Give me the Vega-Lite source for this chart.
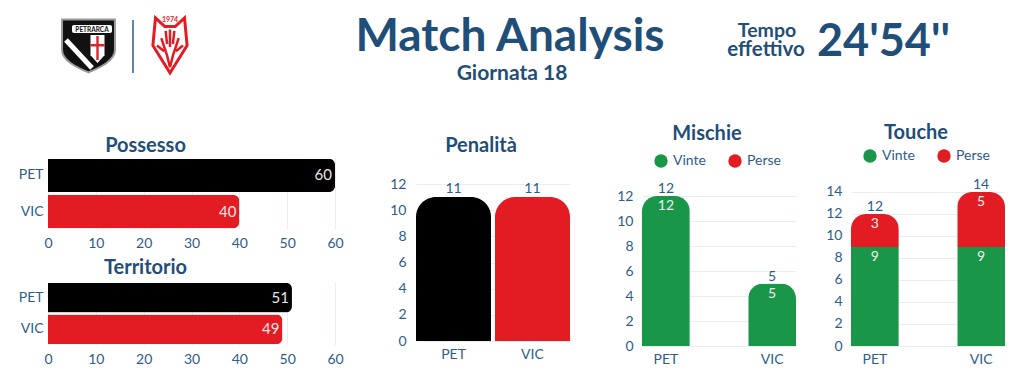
{
  "$schema": "https://vega.github.io/schema/vega-lite/v6.json",
  "background": "white",
  "padding": {"left": 18, "top": 0, "right": 0, "bottom": 0},
  "config": {
    "font": "Lato",
    "view": {"stroke": null},
    "axis": {"labelFont": "Lato", "labelColor": "#2E5C8A", "labelFontSize": 14, "domain": false, "ticks": false, "gridColor": "#E9EEF4", "gridWidth": 1, "labelFlush": false},
    "title": {"font": "Lato", "fontSize": 20, "fontWeight": "bold", "color": "#1F4E79"},
    "legend": {"labelFont": "Lato", "labelColor": "#2E5C8A", "labelFontSize": 14}
  },
  "spacing": 4,
  "vconcat": [
    {
      "width": 952,
      "height": 119,
      "data": {"values": [{}]},
      "layer": [
        {
          "mark": {"type": "point", "shape": "M-1,-1L1,-1L1,0.15C1,0.55 0.45,0.8 0,1C-0.45,0.8 -1,0.55 -1,0.15Z", "filled": true, "fill": "#111111", "stroke": "#9a9a9a", "strokeWidth": 2, "size": 2800, "opacity": 1},
          "encoding": {
            "x": {"datum": 88.5, "type": "quantitative", "scale": {"domain": [48, 1000], "nice": false, "zero": false}, "axis": null},
            "y": {"datum": 46, "type": "quantitative", "scale": {"domain": [0, 119], "nice": false, "reverse": true}, "axis": null}
          }
        },
        {
          "mark": {"type": "rule", "color": "#ffffff", "strokeWidth": 5},
          "encoding": {
            "x": {"datum": 66, "type": "quantitative", "scale": {"domain": [48, 1000], "nice": false, "zero": false}, "axis": null},
            "y": {"datum": 40, "type": "quantitative", "scale": {"domain": [0, 119], "nice": false, "reverse": true}, "axis": null},
            "x2": {"datum": 92},
            "y2": {"datum": 68}
          }
        },
        {
          "mark": {"type": "rect", "color": "#ffffff", "cornerRadius": 2},
          "encoding": {
            "x": {"datum": 72, "type": "quantitative", "scale": {"domain": [48, 1000], "nice": false, "zero": false}, "axis": null},
            "y": {"datum": 25, "type": "quantitative", "scale": {"domain": [0, 119], "nice": false, "reverse": true}, "axis": null},
            "x2": {"datum": 112},
            "y2": {"datum": 33}
          }
        },
        {
          "mark": {"type": "text", "text": "PETRARCA", "fontSize": 6.5, "fontWeight": "bold", "color": "#111111", "align": "center", "baseline": "middle"},
          "encoding": {
            "x": {"datum": 92, "type": "quantitative", "scale": {"domain": [48, 1000], "nice": false, "zero": false}, "axis": null},
            "y": {"datum": 29.5, "type": "quantitative", "scale": {"domain": [0, 119], "nice": false, "reverse": true}, "axis": null}
          }
        },
        {
          "mark": {"type": "point", "shape": "M-0.5,-1L0.5,-1L0.5,0.45L0,1L-0.5,0.45Z", "filled": true, "fill": "#ffffff", "strokeWidth": 0, "size": 784, "opacity": 1},
          "encoding": {
            "x": {"datum": 97.5, "type": "quantitative", "scale": {"domain": [48, 1000], "nice": false, "zero": false}, "axis": null},
            "y": {"datum": 49, "type": "quantitative", "scale": {"domain": [0, 119], "nice": false, "reverse": true}, "axis": null}
          }
        },
        {
          "mark": {"type": "rect", "color": "#d7262e"},
          "encoding": {
            "x": {"datum": 96.3, "type": "quantitative", "scale": {"domain": [48, 1000], "nice": false, "zero": false}, "axis": null},
            "y": {"datum": 36, "type": "quantitative", "scale": {"domain": [0, 119], "nice": false, "reverse": true}, "axis": null},
            "x2": {"datum": 98.7},
            "y2": {"datum": 60}
          }
        },
        {
          "mark": {"type": "rect", "color": "#d7262e"},
          "encoding": {
            "x": {"datum": 90.5, "type": "quantitative", "scale": {"domain": [48, 1000], "nice": false, "zero": false}, "axis": null},
            "y": {"datum": 44, "type": "quantitative", "scale": {"domain": [0, 119], "nice": false, "reverse": true}, "axis": null},
            "x2": {"datum": 104.5},
            "y2": {"datum": 46.5}
          }
        },
        {
          "mark": {"type": "rule", "color": "#2E5C8A", "strokeWidth": 1.5},
          "encoding": {
            "x": {"datum": 133, "type": "quantitative", "scale": {"domain": [48, 1000], "nice": false, "zero": false}, "axis": null},
            "y": {"datum": 20, "type": "quantitative", "scale": {"domain": [0, 119], "nice": false, "reverse": true}, "axis": null},
            "y2": {"datum": 73}
          }
        },
        {
          "mark": {"type": "point", "shape": "M-0.5,-0.9L-0.18,-0.6L0.18,-0.6L0.5,-0.9L0.59,0.05L0,1L-0.59,0.05Z", "filled": false, "stroke": "#E31B23", "strokeWidth": 3, "size": 3364, "opacity": 1},
          "encoding": {
            "x": {"datum": 170, "type": "quantitative", "scale": {"domain": [48, 1000], "nice": false, "zero": false}, "axis": null},
            "y": {"datum": 44, "type": "quantitative", "scale": {"domain": [0, 119], "nice": false, "reverse": true}, "axis": null}
          }
        },
        {
          "mark": {"type": "point", "shape": "M-0.3,-0.2L-0.1,0.4L0,0.8L0.1,0.4L0.3,-0.2M-0.45,0.05L-0.2,0.25M0.45,0.05L0.2,0.25M0,-0.5L0,0.1M-0.15,-0.45L-0.1,0M0.15,-0.45L0.1,0", "filled": false, "stroke": "#E31B23", "strokeWidth": 2.5, "size": 3364, "opacity": 1},
          "encoding": {
            "x": {"datum": 170, "type": "quantitative", "scale": {"domain": [48, 1000], "nice": false, "zero": false}, "axis": null},
            "y": {"datum": 44, "type": "quantitative", "scale": {"domain": [0, 119], "nice": false, "reverse": true}, "axis": null}
          }
        },
        {
          "mark": {"type": "text", "text": "1974", "fontSize": 7, "fontWeight": "bold", "color": "#E31B23", "align": "center", "baseline": "middle"},
          "encoding": {
            "x": {"datum": 170, "type": "quantitative", "scale": {"domain": [48, 1000], "nice": false, "zero": false}, "axis": null},
            "y": {"datum": 20, "type": "quantitative", "scale": {"domain": [0, 119], "nice": false, "reverse": true}, "axis": null}
          }
        },
        {
          "mark": {"type": "text", "text": "Match Analysis", "fontSize": 46, "fontWeight": "bold", "color": "#1F4E79", "align": "center", "baseline": "alphabetic"},
          "encoding": {
            "x": {"datum": 510, "type": "quantitative", "scale": {"domain": [48, 1000], "nice": false, "zero": false}, "axis": null},
            "y": {"datum": 51, "type": "quantitative", "scale": {"domain": [0, 119], "nice": false, "reverse": true}, "axis": null}
          }
        },
        {
          "mark": {"type": "text", "text": "Giornata 18", "fontSize": 21, "fontWeight": "bold", "color": "#1F4E79", "align": "center", "baseline": "alphabetic"},
          "encoding": {
            "x": {"datum": 512, "type": "quantitative", "scale": {"domain": [48, 1000], "nice": false, "zero": false}, "axis": null},
            "y": {"datum": 80, "type": "quantitative", "scale": {"domain": [0, 119], "nice": false, "reverse": true}, "axis": null}
          }
        },
        {
          "mark": {"type": "text", "text": "Tempo", "fontSize": 19.5, "fontWeight": "bold", "color": "#1F4E79", "align": "center", "baseline": "alphabetic"},
          "encoding": {
            "x": {"datum": 767, "type": "quantitative", "scale": {"domain": [48, 1000], "nice": false, "zero": false}, "axis": null},
            "y": {"datum": 37, "type": "quantitative", "scale": {"domain": [0, 119], "nice": false, "reverse": true}, "axis": null}
          }
        },
        {
          "mark": {"type": "text", "text": "effettivo", "fontSize": 20.5, "fontWeight": "bold", "color": "#1F4E79", "align": "center", "baseline": "alphabetic"},
          "encoding": {
            "x": {"datum": 766, "type": "quantitative", "scale": {"domain": [48, 1000], "nice": false, "zero": false}, "axis": null},
            "y": {"datum": 56, "type": "quantitative", "scale": {"domain": [0, 119], "nice": false, "reverse": true}, "axis": null}
          }
        },
        {
          "mark": {"type": "text", "text": "24'54''", "fontSize": 45, "fontWeight": "bold", "color": "#1F4E79", "align": "left", "baseline": "alphabetic"},
          "encoding": {
            "x": {"datum": 817, "type": "quantitative", "scale": {"domain": [48, 1000], "nice": false, "zero": false}, "axis": null},
            "y": {"datum": 56, "type": "quantitative", "scale": {"domain": [0, 119], "nice": false, "reverse": true}, "axis": null}
          }
        }
      ]
    },
    {
      "spacing": 29,
      "resolve": {"scale": {"color": "independent"}, "legend": {"color": "independent"}},
      "hconcat": [
        {
          "spacing": 8,
          "vconcat": [
            {
              "width": 287,
              "height": 71,
              "title": {"text": "Possesso", "dx": -46, "offset": 2},
              "data": {"values": [{"team": "PET", "value": 60}, {"team": "VIC", "value": 40}]},
              "encoding": {
                "y": {"field": "team", "type": "nominal", "title": null, "scale": {"paddingInner": 0.08, "paddingOuter": 0.02}, "axis": {"labelPadding": 5}},
                "x": {"field": "value", "type": "quantitative", "title": null, "scale": {"domain": [0, 60]}, "axis": {"values": [0, 10, 20, 30, 40, 50, 60], "grid": true, "labelPadding": 7}}
              },
              "layer": [
                {
                  "mark": {"type": "bar", "cornerRadiusEnd": 6},
                  "encoding": {"color": {"field": "team", "type": "nominal", "scale": {"domain": ["PET", "VIC"], "range": ["#000000", "#E31B23"]}, "legend": null}}
                },
                {
                  "mark": {"type": "text", "align": "right", "dx": -3, "fontSize": 15, "color": "#e6e6e6"},
                  "encoding": {"text": {"field": "value", "type": "quantitative"}}
                }
              ]
            },
            {
              "width": 287,
              "height": 63,
              "title": {"text": "Territorio", "dx": -46, "offset": 4},
              "data": {"values": [{"team": "PET", "value": 51}, {"team": "VIC", "value": 49}]},
              "encoding": {
                "y": {"field": "team", "type": "nominal", "title": null, "scale": {"paddingInner": 0.06, "paddingOuter": 0.02}, "axis": {"labelPadding": 5}},
                "x": {"field": "value", "type": "quantitative", "title": null, "scale": {"domain": [0, 60]}, "axis": {"values": [0, 10, 20, 30, 40, 50, 60], "grid": true, "labelPadding": 7}}
              },
              "layer": [
                {
                  "mark": {"type": "bar", "cornerRadiusEnd": 6},
                  "encoding": {"color": {"field": "team", "type": "nominal", "scale": {"domain": ["PET", "VIC"], "range": ["#000000", "#E31B23"]}, "legend": null}}
                },
                {
                  "mark": {"type": "text", "align": "right", "dx": -3, "fontSize": 15, "color": "#e6e6e6"},
                  "encoding": {"text": {"field": "value", "type": "quantitative"}}
                }
              ]
            }
          ]
        },
        {
          "width": 154,
          "height": 183,
          "title": {"text": "Penalità", "dx": -12, "offset": 2},
          "data": {"values": [{"team": "PET", "value": 11}, {"team": "VIC", "value": 11}]},
          "encoding": {
            "x": {"field": "team", "type": "nominal", "title": null, "scale": {"paddingInner": 0.05, "paddingOuter": 0}, "axis": {"labelAngle": 0, "labelPadding": 6}},
            "y": {"field": "value", "type": "quantitative", "title": null, "scale": {"domain": [0, 13.99], "nice": false}, "axis": {"values": [0, 2, 4, 6, 8, 10, 12], "grid": true, "labelPadding": 10, "minExtent": 43}}
          },
          "layer": [
            {
              "mark": {"type": "bar", "cornerRadiusEnd": 20},
              "encoding": {"color": {"field": "team", "type": "nominal", "scale": {"domain": ["PET", "VIC"], "range": ["#000000", "#E31B23"]}, "legend": null}}
            },
            {
              "mark": {"type": "text", "baseline": "alphabetic", "dy": -4, "fontSize": 14, "color": "#2E5C8A"},
              "encoding": {"text": {"field": "value", "type": "quantitative"}}
            }
          ]
        },
        {
          "width": 154,
          "height": 188,
          "title": {"text": "Mischie", "dx": -12, "offset": 10},
          "data": {"values": [
            {"team": "PET", "esito": "Vinte", "n": 12},
            {"team": "PET", "esito": "Perse", "n": 0},
            {"team": "VIC", "esito": "Vinte", "n": 5},
            {"team": "VIC", "esito": "Perse", "n": 0}
          ]},
          "encoding": {
            "x": {"field": "team", "type": "nominal", "title": null, "scale": {"paddingInner": 0.55, "paddingOuter": 0}, "axis": {"labelAngle": 0, "labelPadding": 6}},
            "y": {"field": "n", "type": "quantitative", "title": null, "stack": "zero", "scale": {"domain": [0, 15.04], "nice": false}, "axis": {"values": [0, 2, 4, 6, 8, 10, 12], "grid": true, "labelPadding": 9, "minExtent": 43}},
            "order": {"field": "esito", "sort": "descending"}
          },
          "layer": [
            {
              "mark": {"type": "bar", "cornerRadiusEnd": 15},
              "encoding": {"color": {"field": "esito", "type": "nominal", "scale": {"domain": ["Vinte", "Perse"], "range": ["#1A9648", "#E31B23"]}, "legend": {"orient": "none", "legendX": 12, "legendY": -4, "direction": "horizontal", "title": null, "symbolType": "circle", "symbolSize": 180, "symbolStrokeWidth": 0, "columnPadding": 22, "labelOffset": 5}}}
            },
            {
              "transform": [{"filter": "datum.n > 0"}],
              "mark": {"type": "text", "baseline": "top", "dy": 3, "fontSize": 14, "color": "#f0f0f0"},
              "encoding": {"text": {"field": "n", "type": "quantitative"}, "detail": {"field": "esito"}}
            },
            {
              "mark": {"type": "text", "baseline": "alphabetic", "dy": -3, "fontSize": 14, "color": "#2E5C8A"},
              "encoding": {"y": {"aggregate": "sum", "field": "n", "type": "quantitative"}, "text": {"aggregate": "sum", "field": "n", "type": "quantitative"}, "order": null}
            }
          ]
        },
        {
          "width": 154,
          "height": 188,
          "title": {"text": "Touche", "dx": -12, "offset": 6},
          "data": {"values": [
            {"team": "PET", "esito": "Vinte", "n": 9},
            {"team": "PET", "esito": "Perse", "n": 3},
            {"team": "VIC", "esito": "Vinte", "n": 9},
            {"team": "VIC", "esito": "Perse", "n": 5}
          ]},
          "encoding": {
            "x": {"field": "team", "type": "nominal", "title": null, "scale": {"paddingInner": 0.55, "paddingOuter": 0}, "axis": {"labelAngle": 0, "labelPadding": 6}},
            "y": {"field": "n", "type": "quantitative", "title": null, "stack": "zero", "scale": {"domain": [0, 17.09], "nice": false}, "axis": {"values": [0, 2, 4, 6, 8, 10, 12, 14], "grid": true, "labelPadding": 9}},
            "order": {"field": "esito", "sort": "descending"}
          },
          "layer": [
            {
              "mark": {"type": "bar", "cornerRadiusEnd": 15},
              "encoding": {"color": {"field": "esito", "type": "nominal", "scale": {"domain": ["Vinte", "Perse"], "range": ["#1A9648", "#E31B23"]}, "legend": {"orient": "none", "legendX": 12, "legendY": -9, "direction": "horizontal", "title": null, "symbolType": "circle", "symbolSize": 180, "symbolStrokeWidth": 0, "columnPadding": 22, "labelOffset": 5}}}
            },
            {
              "transform": [{"filter": "datum.n > 0"}],
              "mark": {"type": "text", "baseline": "top", "dy": 3, "fontSize": 14, "color": "#f0f0f0"},
              "encoding": {"text": {"field": "n", "type": "quantitative"}, "detail": {"field": "esito"}}
            },
            {
              "mark": {"type": "text", "baseline": "alphabetic", "dy": -3, "fontSize": 14, "color": "#2E5C8A"},
              "encoding": {"y": {"aggregate": "sum", "field": "n", "type": "quantitative"}, "text": {"aggregate": "sum", "field": "n", "type": "quantitative"}, "order": null}
            }
          ]
        }
      ]
    }
  ]
}
